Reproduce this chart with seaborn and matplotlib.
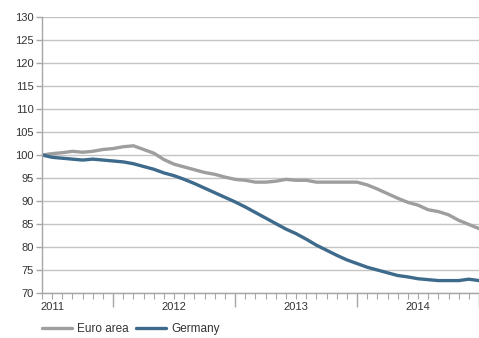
import matplotlib
matplotlib.use("Agg")
import matplotlib.pyplot as plt
import matplotlib.transforms as mtransforms
import numpy as np
import pandas as pd
import seaborn as sns

# ---- data (monthly index, June 2011 = 100) ----
months = list(pd.period_range("2011-06", periods=44, freq="M").strftime("%Y-%m"))
euro_area = [100.0, 100.3, 100.5, 100.8, 100.6, 100.8, 101.2, 101.4, 101.8, 102.0,
             101.2, 100.4, 99.0, 98.0, 97.4, 96.8, 96.2, 95.8, 95.2, 94.7,
             94.5, 94.1, 94.1, 94.3, 94.7, 94.5, 94.5, 94.1, 94.1, 94.1,
             94.1, 94.1, 93.5, 92.6, 91.6, 90.6, 89.7, 89.1, 88.1, 87.7,
             87.0, 85.8, 84.9, 84.0]
germany = [100.0, 99.5, 99.3, 99.1, 98.9, 99.1, 98.9, 98.7, 98.5, 98.1,
           97.5, 96.9, 96.1, 95.5, 94.7, 93.8, 92.8, 91.8, 90.8, 89.8,
           88.7, 87.5, 86.3, 85.1, 83.9, 82.9, 81.7, 80.4, 79.3, 78.2,
           77.2, 76.4, 75.6, 75.0, 74.4, 73.8, 73.5, 73.1, 72.9, 72.7,
           72.7, 72.7, 73.0, 72.7]
series_names = ["Euro area", "Germany"]
series_colors = ["#9e9e9e", "#3e6a8b"]
year_labels = ["2011", "2012", "2013", "2014"]
y_ticks = [70, 75, 80, 85, 90, 95, 100, 105, 110, 115, 120, 125, 130]

idx = np.arange(len(months))
df = pd.concat([
    pd.DataFrame({"k": idx, "month": months, "value": euro_area, "series": series_names[0]}),
    pd.DataFrame({"k": idx, "month": months, "value": germany, "series": series_names[1]}),
])

sns.set_theme(style="white")
plt.rcParams["font.family"] = ["Liberation Sans", "DejaVu Sans"]

W, H = 479, 338
fig = plt.figure(figsize=(W / 100, H / 100), dpi=100)
ax = fig.add_axes([42 / W, 1 - 293 / H, (479 - 42) / W, (293 - 17) / H])

sns.lineplot(data=df, x="k", y="value", hue="series", palette=series_colors,
             hue_order=series_names, linewidth=2.4, ax=ax, legend=True)

FS = 8.0
ax.set_xlim(0, (479 - 42) / 10.25)
ax.set_ylim(70, 130)
ax.set_yticks(y_ticks)
ax.set_yticklabels([str(v) for v in y_ticks], fontsize=FS, color="#333333")
ax.yaxis.grid(True, color="#c4c4c4", linewidth=1.0)
ax.xaxis.grid(False)
ax.set_xlabel("")
ax.set_ylabel("")

for s in ["top", "right"]:
    ax.spines[s].set_visible(False)
for s in ["left", "bottom"]:
    ax.spines[s].set_color("#a6a6a6")
    ax.spines[s].set_linewidth(1.0)

ax.tick_params(axis="y", which="major", length=4, width=1.0, color="#a6a6a6", pad=2, left=True)

# month ticks (minor) and year boundaries (major)
jan_pos = [k for k, m in enumerate(months) if m.endswith("-01")]
ax.set_xticks(jan_pos)
ax.set_xticklabels([""] * len(jan_pos))
ax.set_xticks(idx, minor=True)
ax.tick_params(axis="x", which="major", length=10, width=1.0, color="#a6a6a6", bottom=True)
ax.tick_params(axis="x", which="minor", length=4, width=0.8, color="#a6a6a6", bottom=True)

# year labels centred on July of each year
trans = mtransforms.blended_transform_factory(ax.transData, ax.transAxes)
for yl in year_labels:
    k = months.index(yl + "-07")
    ax.text(k, -0.033, yl, transform=trans, ha="center", va="top",
            fontsize=FS, color="#333333")

handles, labels = ax.get_legend_handles_labels()
ax.legend(handles, labels, loc="center left", bbox_to_anchor=(42 / W, 1 - 329 / H),
          bbox_transform=fig.transFigure, ncol=2, frameon=False, fontsize=8.5,
          borderpad=0, borderaxespad=0,
          handlelength=2.55, handletextpad=0.45, columnspacing=0.6,
          labelcolor="#333333")

fig.savefig("out.png", dpi=100)
